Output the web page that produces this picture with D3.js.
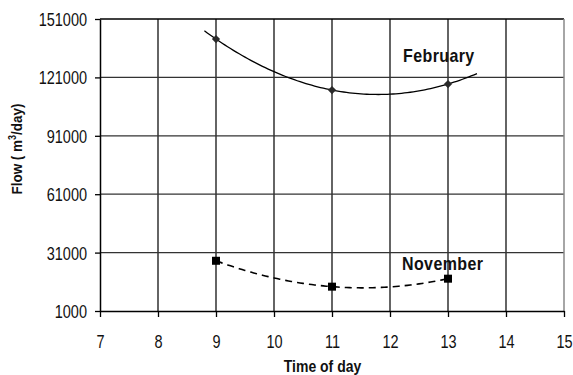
<!DOCTYPE html>
<html>
<head>
<meta charset="utf-8">
<script src="https://cdn.jsdelivr.net/npm/d3@7"></script>
<style>
body { margin: 0; background: #fff; }
svg text { font-family: "Liberation Sans", Arial, sans-serif; fill: #111; }
</style>
</head>
<body>
<script>
const w = 573;
const h = 375;

// data
const hours = [9, 11, 13];
const february = [140700, 114500, 117600];
const november = [26800, 13500, 17600];
const xTicks = [7, 8, 9, 10, 11, 12, 13, 14, 15];
const yTicks = [1000, 31000, 61000, 91000, 121000, 151000];

// quadratic trendline through the three points (the spreadsheet's polynomial fit)
function quadFit(xs, ys) {
    const x0 = xs[1], t = xs.map(x => x - x0);
    const [t1, t2, t3] = t, [y1, y2, y3] = ys;
    const denom = (t1 - t2) * (t1 - t3) * (t2 - t3);
    const a = (t3 * (y2 - y1) + t2 * (y1 - y3) + t1 * (y3 - y2)) / denom;
    const b = (t3 * t3 * (y1 - y2) + t2 * t2 * (y3 - y1) + t1 * t1 * (y2 - y3)) / denom;
    const c = (t2 * t3 * (t2 - t3) * y1 + t3 * t1 * (t3 - t1) * y2 + t1 * t2 * (t1 - t2) * y3) / denom;
    return x => { const u = x - x0; return a * u * u + b * u + c; };
}

// the original text is drawn a bit taller than it is wide
function label(parent, x, y, txt, size, sy, extra) {
    const g = parent.append("g")
        .attr("transform", `translate(${x},${y}) ${extra || ""} scale(1,${sy})`);
    return g.append("text")
        .style("font-size", size + "px")
        .style("font-weight", "bold")
        .text(txt);
}

const svg = d3.select("body").append("svg")
    .attr("width", w)
    .attr("height", h);

const xScale = d3.scaleLinear().domain([7, 15]).range([100, 564]);
const yScale = d3.scaleLinear().domain([1000, 151000]).range([311, 19]);

// grid
svg.append("g").selectAll("line")
    .data(xTicks.slice(1, -1))
    .enter().append("line")
    .attr("x1", d => xScale(d)).attr("x2", d => xScale(d))
    .attr("y1", yScale(151000)).attr("y2", yScale(1000))
    .attr("stroke", "#111").attr("stroke-width", 1.3);

svg.append("g").selectAll("line")
    .data(yTicks.slice(1, -1))
    .enter().append("line")
    .attr("x1", xScale(7)).attr("x2", xScale(15))
    .attr("y1", d => yScale(d)).attr("y2", d => yScale(d))
    .attr("stroke", "#333").attr("stroke-width", 1.3);

// frame: top black, right grey
svg.append("line")
    .attr("x1", xScale(7)).attr("x2", xScale(15))
    .attr("y1", yScale(151000)).attr("y2", yScale(151000))
    .attr("stroke", "#000").attr("stroke-width", 1.3);
svg.append("line")
    .attr("x1", xScale(15)).attr("x2", xScale(15))
    .attr("y1", yScale(151000)).attr("y2", yScale(1000))
    .attr("stroke", "#888").attr("stroke-width", 1.5);

const xAxis = d3.axisBottom(xScale)
    .tickValues(xTicks)
    .tickSize(6)
    .tickSizeOuter(0)
    .tickFormat(d3.format("d"));

const yAxis = d3.axisLeft(yScale)
    .tickValues(yTicks)
    .tickSize(5)
    .tickSizeOuter(0)
    .tickFormat(d3.format("d"));

const gx = svg.append("g")
    .attr("transform", "translate(0," + yScale(1000) + ")")
    .call(xAxis);
const gy = svg.append("g")
    .attr("transform", "translate(" + xScale(7) + ",0)")
    .call(yAxis);

[gx, gy].forEach(g => {
    g.select(".domain").attr("stroke", "#000").attr("stroke-width", 1.5);
    g.selectAll(".tick line").attr("stroke", "#000").attr("stroke-width", 1.3);
    g.selectAll(".tick text")
        .attr("fill", "#111")
        .attr("x", 0).attr("y", 0).attr("dy", 0)
        .style("font-size", "14.5px")
        .style("font-family", "'Liberation Sans', Arial, sans-serif");
});
gx.selectAll(".tick text").attr("transform", "translate(0,36.5) scale(1,1.33)");
gy.selectAll(".tick text").attr("transform", "translate(-13,6.5) scale(1,1.28)");

// trendlines
const line = d3.line()
    .x(d => xScale(d[0]))
    .y(d => yScale(d[1]));

const febFit = quadFit(hours, february);
const febTrend = d3.range(8.8, 13.51, 0.05).map(x => [x, febFit(x)]);
svg.append("path")
    .attr("d", line(febTrend))
    .attr("fill", "none")
    .attr("stroke", "#000")
    .attr("stroke-width", 1.3);

const novFit = quadFit(hours, november);
const novTrend = d3.range(9, 13.01, 0.05).map(x => [x, novFit(x)]);
svg.append("path")
    .attr("d", line(novTrend))
    .attr("fill", "none")
    .attr("stroke", "#000")
    .attr("stroke-width", 1.6)
    .attr("stroke-dasharray", "7,5");

// markers
svg.append("g").selectAll("path")
    .data(hours.map((x, i) => [x, february[i]]))
    .enter().append("path")
    .attr("d", d3.symbol(d3.symbolSquare, 34)())
    .attr("transform", d => "translate(" + xScale(d[0]) + "," + yScale(d[1]) + ") rotate(45)")
    .attr("fill", "#2a2a2a");

svg.append("g").selectAll("rect")
    .data(hours.map((x, i) => [x, november[i]]))
    .enter().append("rect")
    .attr("x", d => xScale(d[0]) - 4)
    .attr("y", d => yScale(d[1]) - 4)
    .attr("width", 8)
    .attr("height", 8)
    .attr("fill", "#000");

// series labels
label(svg, 403, 62, "February", 16, 1.15).style("letter-spacing", "0.4px");
label(svg, 402, 270, "November", 16, 1.15).style("letter-spacing", "0.4px");

// axis titles
label(svg, 322.5, 372, "Time of day", 14, 1.15).attr("text-anchor", "middle");

const yt = label(svg, 22, 149, "", 13.5, 1.15, "rotate(-90)")
    .attr("text-anchor", "middle");
yt.append("tspan").text("Flow ( m");
yt.append("tspan").attr("dy", -5).style("font-size", "9px").text("3");
yt.append("tspan").attr("dy", 5).text("/day)");
</script>
</body>
</html>
